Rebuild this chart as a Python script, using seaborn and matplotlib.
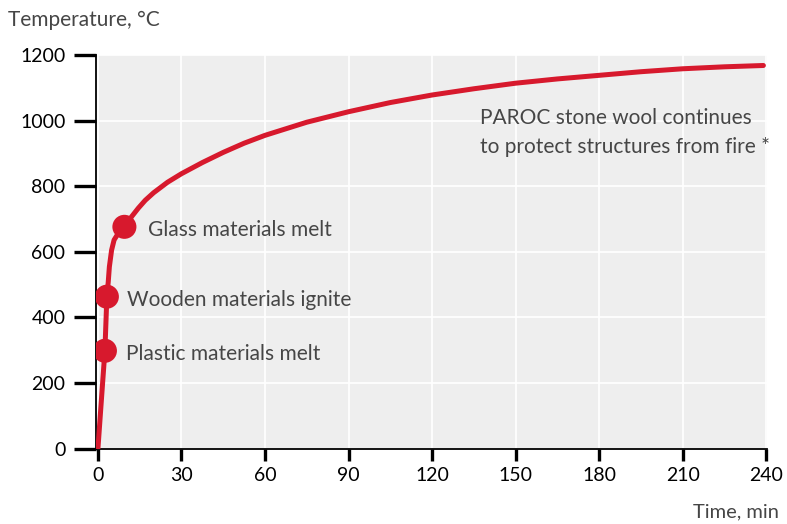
import matplotlib
matplotlib.use("Agg")
import matplotlib.pyplot as plt
import seaborn as sns
import pandas as pd

# Fire curve
time_min = [0, 1, 2.5, 3.2, 3.7, 4.1, 4.9, 5.8, 7.5, 9.5, 12, 14.5, 17, 20, 25, 30, 37.5, 45, 52.5, 60,
            75, 90, 105, 120, 135, 150, 165, 180, 195, 210, 225, 239]
temperature = [0, 120, 298, 463, 508, 554, 605, 636, 659, 676, 706, 733, 757, 780, 812, 838, 872, 903,
               931, 955, 995, 1027, 1055, 1078, 1097, 1114, 1127, 1138, 1149, 1158, 1164, 1168]

event_time = [2.5, 3.2, 9.5]
event_temp = [298, 463, 676]
event_labels = ["Plastic materials melt", "Wooden materials ignite", "Glass materials melt"]

note_lines = ["PAROC stone wool continues", "to protect structures from fire *"]

x_ticks = [0, 30, 60, 90, 120, 150, 180, 210, 240]
y_ticks = [0, 200, 400, 600, 800, 1000, 1200]

RED = "#d7192d"
GRAY = "#464646"

sns.set_theme(style="darkgrid", rc={
    "axes.facecolor": "#eeeeee",
    "grid.color": "white",
    "grid.linewidth": 1.2,
    "axes.edgecolor": "black",
})
plt.rcParams["font.family"] = ["Lato", "DejaVu Sans"]

fig = plt.figure(figsize=(7.87, 5.24), dpi=100)
ax = fig.add_axes([96 / 787, 1 - 448.5 / 524, (767 - 96) / 787, (448.5 - 55) / 524])

curve = pd.DataFrame({"t": time_min, "T": temperature})
events = pd.DataFrame({"t": event_time, "T": event_temp, "label": event_labels})

sns.lineplot(data=curve, x="t", y="T", ax=ax, color=RED, linewidth=3.6, zorder=3)
sns.scatterplot(data=events, x="t", y="T", ax=ax, color=RED, s=300, edgecolor="none", zorder=4)

offsets = {"Plastic materials melt": 7.5, "Wooden materials ignite": 7.3, "Glass materials melt": 8.5}
for _, r in events.iterrows():
    ax.text(r["t"] + offsets[r["label"]], r["T"] - 10, r["label"], fontsize=15, color=GRAY,
            va="center", ha="left", zorder=5)

for line, yv in zip(note_lines, [1008, 919]):
    ax.text(137.3, yv, line, fontsize=15, color=GRAY, ha="left", va="center")

ax.set_xlim(-0.7, 240.3)
ax.set_ylim(0, 1200)
ax.set_xticks(x_ticks)
ax.set_yticks(y_ticks)
ax.set_xlabel("")
ax.set_ylabel("")
ax.tick_params(axis="x", length=8.5, width=2.4, color="black", direction="out", labelsize=14,
               pad=5, bottom=True, labelcolor="black")
ax.tick_params(axis="y", length=16, width=2.4, color="black", direction="out", labelsize=14,
               pad=6, left=True, labelcolor="black")
for side in ["top", "right"]:
    ax.spines[side].set_visible(False)
for side in ["left", "bottom"]:
    ax.spines[side].set_visible(True)
    ax.spines[side].set_linewidth(1.3)
    ax.spines[side].set_color("black")

fig.text(8 / 787, 1 - 20 / 524, "Temperature, °C", fontsize=15, color=GRAY, ha="left", va="center")
fig.text(779 / 787, 1 - 512 / 524, "Time, min", fontsize=14.5, color=GRAY, ha="right", va="center")

fig.savefig("out.png", dpi=100)
